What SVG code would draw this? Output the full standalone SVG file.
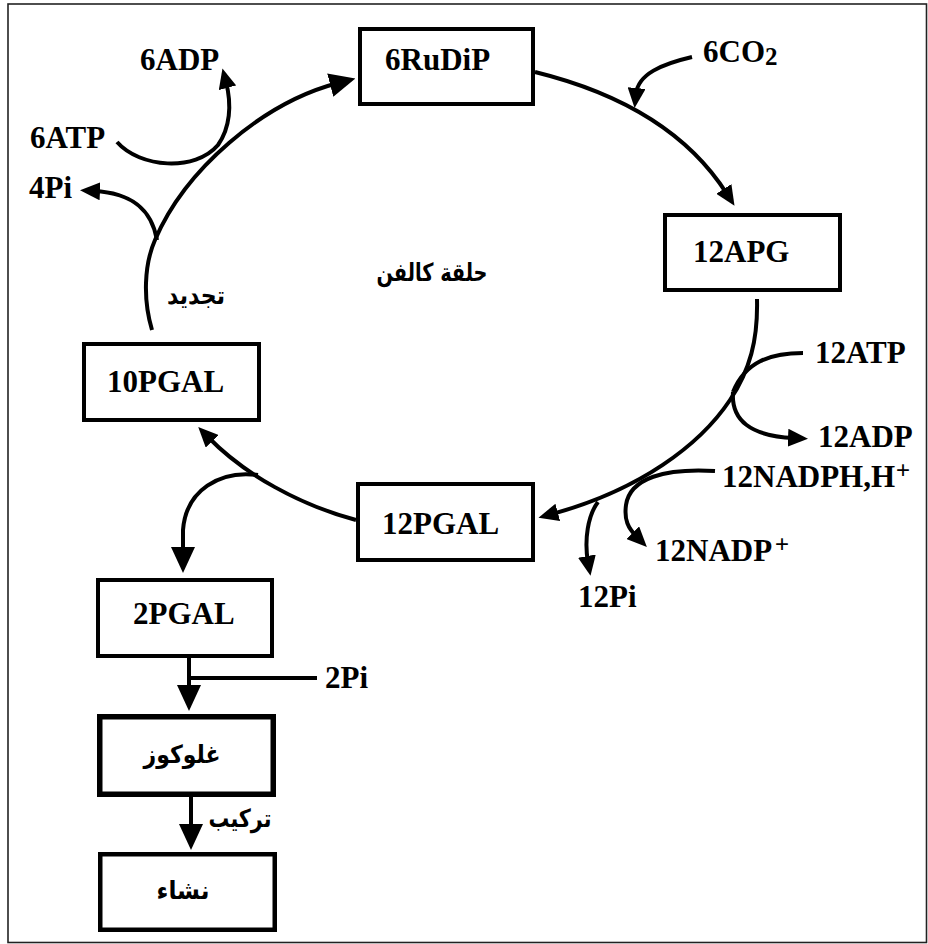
<svg xmlns="http://www.w3.org/2000/svg" width="928" height="944" viewBox="0 0 928 944">
  <style>
    .box { fill: #fff; stroke: #000; stroke-width: 4; }
    .lat { font-family: "Liberation Serif", "Times New Roman", serif; font-weight: bold; font-size: 31px; fill: #000; }
    .sup { font-family: "Liberation Sans", Arial, sans-serif; font-weight: normal; font-size: 24px; fill: #000; }
    .ar { font-family: "DejaVu Sans", "Noto Sans", sans-serif; font-weight: bold; font-size: 25px; fill: #000; }
    .flow { fill: none; stroke: #000; stroke-width: 4; }
  </style>
  <defs>
    <marker id="head" markerUnits="userSpaceOnUse" viewBox="0 0 20 18" markerWidth="20" markerHeight="18" refX="6" refY="9" orient="auto">
      <path d="M0,0 L20,9 L0,18 z" fill="#000"/>
    </marker>
    <marker id="headL" markerUnits="userSpaceOnUse" viewBox="0 0 26 24" markerWidth="26" markerHeight="24" refX="8" refY="12" orient="auto">
      <path d="M0,0 L26,12 L0,24 z" fill="#000"/>
    </marker>
  </defs>

  <rect x="0" y="0" width="928" height="944" fill="#fff"/>
  <!-- outer frame -->
  <rect x="8" y="4" width="918.5" height="938.5" fill="none" stroke="#222" stroke-width="1.6"/>

  <!-- connectors -->
  <g id="connectors">
    <!-- 10PGAL -> 6RuDiP (regeneration) -->
    <path class="flow" d="M152,330 C143,300 144,265 155,240 C185,170 262,103 338,83" marker-end="url(#headL)"/>
    <!-- 6ATP in, 6ADP out -->
    <path class="flow" d="M117,142 C140,168 195,172 218,145 C230,128 232,105 226,82" marker-end="url(#head)"/>
    <!-- 4Pi out -->
    <path class="flow" d="M157,240 C152,212 135,193 94,191" marker-end="url(#head)"/>
    <!-- 6RuDiP -> 12APG -->
    <path class="flow" d="M535,72 C600,88 680,120 727,194" marker-end="url(#head)"/>
    <!-- 6CO2 in -->
    <path class="flow" d="M692,57 C662,64 638,74 636,94" marker-end="url(#head)"/>
    <!-- 12APG -> 12PGAL -->
    <path class="flow" d="M757,299 C758,340 750,370 730,400 C700,445 640,490 552,514" marker-end="url(#head)"/>
    <!-- 12ATP in -->
    <path class="flow" d="M803,353 C770,353 745,362 733,392"/>
    <!-- 12ADP out -->
    <path class="flow" d="M733,392 C731,420 750,436 794,438" marker-end="url(#head)"/>
    <!-- 12NADPH,H+ in, 12NADP+ out -->
    <path class="flow" d="M715,471 C665,468 630,478 626,505 C624,520 628,528 637,537" marker-end="url(#head)"/>
    <!-- 12Pi out -->
    <path class="flow" d="M598,502 C588,515 584,540 588,562" marker-end="url(#head)"/>
    <!-- 12PGAL -> 10PGAL -->
    <path class="flow" d="M356,520 C300,505 245,475 208,437" marker-end="url(#head)"/>
    <!-- branch to 2PGAL -->
    <path class="flow" d="M258,475 C220,470 186,490 183,530 L183,555" marker-end="url(#headL)"/>
    <!-- 2PGAL -> glucose -->
    <path class="flow" d="M189,658 L189,693" marker-end="url(#headL)"/>
    <!-- 2Pi out -->
    <path class="flow" d="M189,678 L317,678"/>
    <!-- glucose -> starch -->
    <path class="flow" d="M191,797 L191,832" marker-end="url(#headL)"/>
  </g>

  <!-- cycle nodes -->
  <g id="n-6rudip">
    <rect class="box" x="360" y="29" width="173" height="75"/>
    <text class="lat" x="385" y="70">6RuDiP</text>
  </g>
  <g id="n-12apg">
    <rect class="box" x="665" y="215" width="175" height="75"/>
    <text class="lat" x="693" y="262">12APG</text>
  </g>
  <g id="n-12pgal">
    <rect class="box" x="358" y="484" width="175" height="76"/>
    <text class="lat" x="382" y="534">12PGAL</text>
  </g>
  <g id="n-10pgal">
    <rect class="box" x="84" y="344" width="175" height="76"/>
    <text class="lat" x="107" y="392">10PGAL</text>
  </g>
  <g id="n-2pgal">
    <rect class="box" x="98" y="580" width="174" height="76"/>
    <text class="lat" x="133" y="624">2PGAL</text>
  </g>
  <g id="n-glucose">
    <rect class="box" x="99.75" y="716.75" width="173.5" height="77.5" style="stroke-width:5.5"/>
    <text class="ar" x="182" y="763" text-anchor="middle" direction="rtl" textLength="77" lengthAdjust="spacingAndGlyphs">غلوكوز</text>
  </g>
  <g id="n-starch">
    <rect class="box" x="100.25" y="854.25" width="174.5" height="75.5" style="stroke-width:4.5"/>
    <text class="ar" x="183" y="899" text-anchor="middle" direction="rtl" textLength="53" lengthAdjust="spacingAndGlyphs">نشاء</text>
  </g>

  <!-- inputs and outputs -->
  <g id="t-6adp"><text class="lat" x="140" y="70">6ADP</text></g>
  <g id="t-6atp"><text class="lat" x="30" y="148">6ATP</text></g>
  <g id="t-4pi"><text class="lat" x="29" y="198">4Pi</text></g>
  <g id="t-6co2"><text class="lat" x="703" y="62">6CO<tspan font-size="25" dy="3">2</tspan></text></g>
  <g id="t-12atp"><text class="lat" x="815" y="363">12ATP</text></g>
  <g id="t-12adp"><text class="lat" x="818" y="447">12ADP</text></g>
  <g id="t-12nadph"><text class="lat" x="722" y="487">12NADPH,H</text><text class="sup" x="896" y="478">+</text></g>
  <g id="t-12nadp"><text class="lat" x="655" y="561">12NADP</text><text class="sup" x="775" y="552">+</text></g>
  <g id="t-12pi"><text class="lat" x="578" y="607">12Pi</text></g>
  <g id="t-2pi"><text class="lat" x="325" y="688">2Pi</text></g>

  <!-- captions -->
  <g id="c-calvin"><text class="ar" x="432" y="281" text-anchor="middle" direction="rtl" textLength="111" lengthAdjust="spacingAndGlyphs">حلقة كالفن</text></g>
  <g id="c-regen"><text class="ar" x="196" y="304" text-anchor="middle" direction="rtl" textLength="58" lengthAdjust="spacingAndGlyphs">تجديد</text></g>
  <g id="c-synth"><text class="ar" x="240" y="827" text-anchor="middle" direction="rtl" textLength="63" lengthAdjust="spacingAndGlyphs">تركيب</text></g>
</svg>
